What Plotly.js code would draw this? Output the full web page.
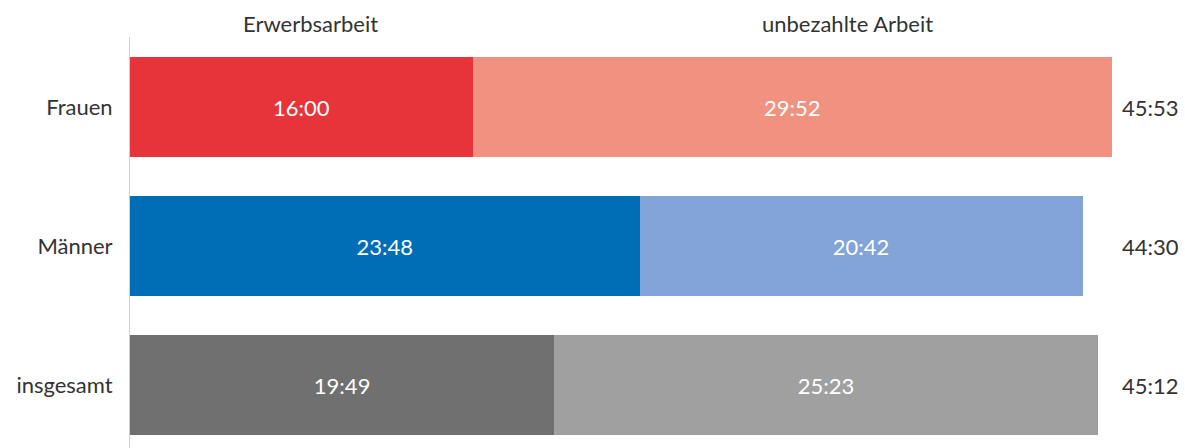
<!DOCTYPE html>
<html>
<head>
<meta charset="utf-8">
<script src="https://cdn.plot.ly/plotly-3.0.1.min.js"></script>
<style>html,body{margin:0;padding:0;background:#fff;}#chart{width:1185px;height:448px;}</style>
</head>
<body>
<div id="chart"></div>
<script>
const categories = ['Frauen', 'Männer', 'insgesamt'];
const paidLabels = ['16:00', '23:48', '19:49'];
const unpaidLabels = ['29:52', '20:42', '25:23'];
const totalLabels = ['45:53', '44:30', '45:12'];
const seriesNames = ['Erwerbsarbeit', 'unbezahlte Arbeit'];
const paidColors = ['#E6343A', '#006DB7', '#707070'];
const unpaidColors = ['#F19180', '#82A4D7', '#A0A0A0'];

function toHours(s) { const p = s.split(':'); return Number(p[0]) + Number(p[1]) / 60; }
const paidHours = paidLabels.map(toHours);
const unpaidHours = unpaidLabels.map(toHours);

const FONT = '"Source Sans Pro", Lato, sans-serif';
const TXT = '#333333';
const FS = 22;

const traces = [
  {type: 'bar', orientation: 'h', name: seriesNames[0], y: categories, x: paidHours,
   text: paidLabels, textposition: 'inside', insidetextanchor: 'middle', width: 0.72,
   textfont: {color: '#ffffff', size: FS, family: FONT}, marker: {color: paidColors},
   hoverinfo: 'none', cliponaxis: false},
  {type: 'bar', orientation: 'h', name: seriesNames[1], y: categories, x: unpaidHours,
   text: unpaidLabels, textposition: 'inside', insidetextanchor: 'middle', width: 0.72,
   textfont: {color: '#ffffff', size: FS, family: FONT}, marker: {color: unpaidColors},
   hoverinfo: 'none', cliponaxis: false}
];

const annotations = categories.map((c, i) => ({
  x: 47.66, y: c, xref: 'x', yref: 'y', text: totalLabels[i], showarrow: false,
  xanchor: 'center', yanchor: 'middle', font: {size: FS, color: TXT, family: FONT}
}));
annotations.push({x: 8.45, y: 1, xref: 'x', yref: 'paper', yanchor: 'bottom', yshift: -2,
  text: seriesNames[0], showarrow: false, font: {size: FS, color: TXT, family: FONT}});
annotations.push({x: 33.5, y: 1, xref: 'x', yref: 'paper', yanchor: 'bottom', yshift: -2,
  text: seriesNames[1], showarrow: false, font: {size: FS, color: TXT, family: FONT}});

const layout = {
  width: 1185, height: 448,
  margin: {l: 130, r: 6, t: 37, b: 0},
  paper_bgcolor: '#ffffff', plot_bgcolor: '#ffffff',
  barmode: 'stack', showlegend: false,
  font: {family: FONT, color: TXT, size: FS},
  xaxis: {range: [0, 49], visible: false, fixedrange: true},
  yaxis: {type: 'category', categoryarray: categories, range: [2.453, -0.504], autorange: false,
          showline: true, linecolor: '#d0d0d0', linewidth: 1, showgrid: false, zeroline: false,
          ticks: '', ticklabelstandoff: 12, tickfont: {size: FS, color: TXT, family: FONT}},
  annotations: annotations
};

Plotly.newPlot('chart', traces, layout, {displayModeBar: false, staticPlot: true});
</script>
</body>
</html>
